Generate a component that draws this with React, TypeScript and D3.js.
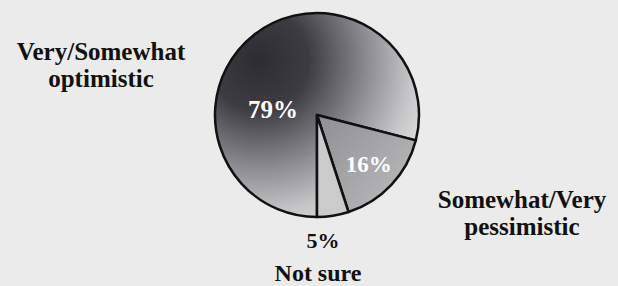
import React from 'react';
import * as d3 from 'd3';

// survey answers, in drawing order (clockwise from 6 o'clock)
const categories = ['Very/Somewhat optimistic', 'Somewhat/Very pessimistic', 'Not sure'];
const values = [79, 16, 5];
const valueLabels = ['79%', '16%', '5%'];

const W = 618;
const H = 286;
const cx = 317;
const cy = 115;
const R = 102;

const App = () => {
    const pie = d3
        .pie<number>()
        .sort(null)
        .startAngle(Math.PI)
        .endAngle(3 * Math.PI);
    const arcs = pie(values);
    const arc = d3.arc<d3.PieArcDatum<number>>().innerRadius(0).outerRadius(R);
    const labelArc = d3.arc<d3.PieArcDatum<number>>().innerRadius(71).outerRadius(71);

    const fills = ['url(#gOpt)', 'url(#gPes)', '#cbcbcb'];
    const font = '"Liberation Serif", "Times New Roman", serif';

    // 16% label sits on its centroid, 79% is pushed to the left side
    const c16 = labelArc.centroid(arcs[1]);

    return (
        <svg width={W} height={H} style={{ position: 'absolute', left: 0, top: 0 }}>
            <defs>
                {/* gradient coords are relative to the pie centre */}
                <radialGradient id="gOpt" gradientUnits="userSpaceOnUse" cx={-58} cy={-55} r={180}>
                    <stop offset="0" stopColor="#2c2c32" />
                    <stop offset="0.28" stopColor="#3c3c42" />
                    <stop offset="0.6" stopColor="#8c8c90" />
                    <stop offset="0.85" stopColor="#c6c6c8" />
                    <stop offset="1" stopColor="#dedede" />
                </radialGradient>
                <linearGradient id="gPes" gradientUnits="userSpaceOnUse" x1={5} y1={0} x2={100} y2={85}>
                    <stop offset="0" stopColor="#909094" />
                    <stop offset="1" stopColor="#bcbcbe" />
                </linearGradient>
            </defs>
            <rect width={W} height={H} fill="#ebebeb" />
            <g transform={`translate(${cx},${cy})`}>
                {arcs.map((a, i) => (
                    <path
                        key={categories[i]}
                        d={arc(a) || ''}
                        fill={fills[i]}
                        stroke="#111"
                        strokeWidth={2.5}
                        strokeLinejoin="round"
                    />
                ))}
                <text x={-44} y={3} textAnchor="middle" fill="#fff" fontFamily={font} fontWeight="bold" fontSize={25}>
                    {valueLabels[0]}
                </text>
                <text x={c16[0]} y={c16[1] + 8} textAnchor="middle" fill="#fff" fontFamily={font} fontWeight="bold" fontSize={23}>
                    {valueLabels[1]}
                </text>
            </g>
            <g fontFamily={font} fontWeight="bold" fill="#111" textAnchor="middle">
                <text x={101} y={60} fontSize={25}>Very/Somewhat</text>
                <text x={101} y={87} fontSize={25}>optimistic</text>
                <text x={522} y={208} fontSize={25}>Somewhat/Very</text>
                <text x={522} y={235} fontSize={25}>pessimistic</text>
                <text x={323} y={248} fontSize={22}>{valueLabels[2]}</text>
                <text x={318} y={281} fontSize={24}>Not sure</text>
            </g>
        </svg>
    );
};

export default App;
